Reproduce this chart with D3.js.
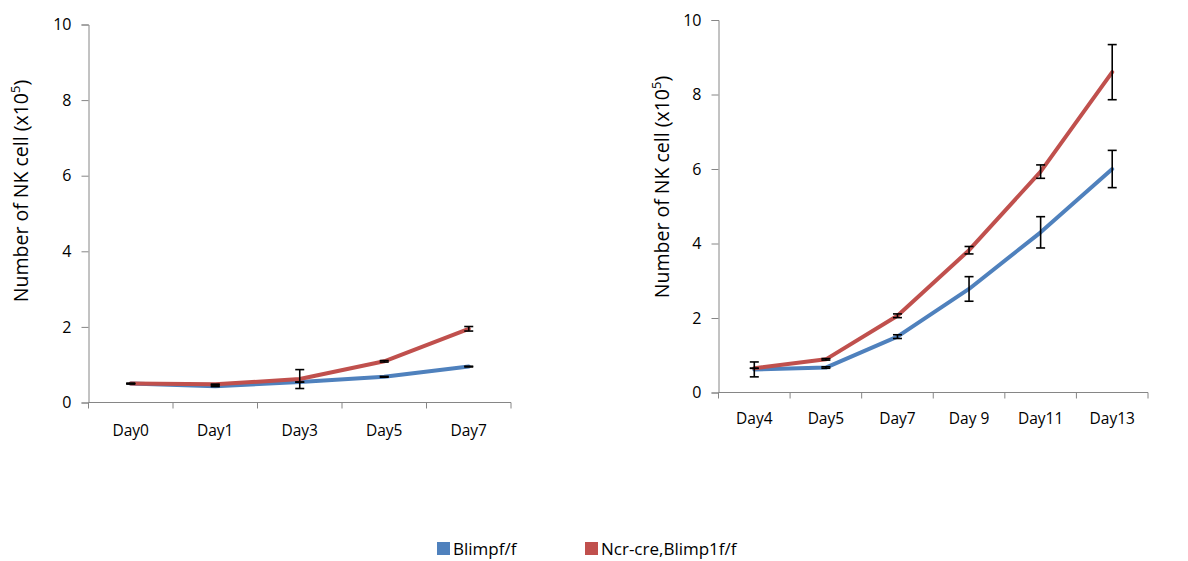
<!DOCTYPE html>
<html><head><meta charset="utf-8">
<script src="https://cdn.jsdelivr.net/npm/d3@7"></script>
<style>body{margin:0;background:#fff}svg{display:block}text{font-family:"Open Sans","Noto Sans",sans-serif;fill:#000}</style>
</head><body><svg id="c" width="1188" height="561"></svg>
<script>
const seriesNames = ["Blimpf/f", "Ncr-cre,Blimp1f/f"];
const seriesColors = ["#4F81BD", "#C0504D"];
const yTicks = [0, 2, 4, 6, 8, 10];

const leftDays = ["Day0", "Day1", "Day3", "Day5", "Day7"];
const leftBlue = [0.50, 0.43, 0.54, 0.68, 0.95];
const leftBlueErr = [0.01, 0.01, 0.00, 0.01, 0.01];
const leftRed = [0.50, 0.48, 0.62, 1.09, 1.95];
const leftRedErr = [0.00, 0.00, 0.25, 0.02, 0.06];

const rightDays = ["Day4", "Day5", "Day7", "Day 9", "Day11", "Day13"];
const rightBlue = [0.62, 0.67, 1.50, 2.78, 4.30, 6.00];
const rightBlueErr = [0.20, 0.02, 0.05, 0.33, 0.42, 0.50];
const rightRed = [0.65, 0.89, 2.06, 3.82, 5.93, 8.60];
const rightRedErr = [0.00, 0.02, 0.05, 0.10, 0.18, 0.74];

const svg = d3.select("#c");

function panel(cfg) {
  const g = svg.append("g");
  const x = d3.scaleBand().domain(cfg.days).range([cfg.x0, cfg.x1]);
  const y = d3.scaleLinear().domain([0, 10]).range([cfg.y0, cfg.y1]);
  const ya = g.append("g").attr("transform", `translate(${cfg.x0},0)`)
    .call(d3.axisLeft(y).tickValues(yTicks).tickSize(7).tickPadding(10));
  ya.select(".domain").attr("stroke", "#868686").attr("stroke-width", 1);
  ya.selectAll(".tick line").attr("stroke", "#868686");
  ya.selectAll(".tick text").attr("font-size", 16).attr("font-family", '"Open Sans",sans-serif');
  const xa = g.append("g").attr("transform", `translate(0,${cfg.y0})`)
    .call(d3.axisBottom(x).tickSize(0).tickPadding(cfg.xPad));
  xa.select(".domain").attr("stroke", "#868686").attr("d", `M${cfg.x0},0H${cfg.x1}`);
  xa.selectAll(".tick text").attr("font-size", 15.5).attr("font-family", '"Open Sans",sans-serif');
  const bounds = cfg.days.map(d => x(d)).concat([cfg.x1]);
  g.selectAll("line.xt").data(bounds).join("line").attr("class", "xt")
    .attr("x1", d => d).attr("x2", d => d).attr("y1", cfg.y0).attr("y2", cfg.y0 + 6)
    .attr("stroke", "#868686");
  const t = g.append("text")
    .attr("transform", `translate(${cfg.titleX},${cfg.titleY}) rotate(-90)`)
    .attr("text-anchor", "middle").attr("font-size", 19.5);
  t.append("tspan").text("Number of NK cell (x10");
  t.append("tspan").text("5").attr("font-size", 13).attr("dy", -8);
  t.append("tspan").text(")").attr("dy", 8);

  const cx = d => x(d) + x.bandwidth() / 2;
  const line = d3.line().x((v, i) => cx(cfg.days[i])).y(v => y(v)).curve(d3.curveLinear);
  const series = [[cfg.blue, cfg.blueErr], [cfg.red, cfg.redErr]];
  series.forEach(([vals], si) => {
    g.append("path").attr("d", line(vals)).attr("fill", "none")
      .attr("stroke", seriesColors[si]).attr("stroke-width", 4)
      .attr("stroke-linecap", "round").attr("stroke-linejoin", "round");
  });
  series.forEach(([vals, errs]) => {
    vals.forEach((v, i) => {
      const e = errs[i]; const px = cx(cfg.days[i]);
      const eg = g.append("g").attr("stroke", "#000").attr("stroke-width", 1.6);
      eg.append("line").attr("x1", px).attr("x2", px).attr("y1", y(v - e)).attr("y2", y(v + e));
      [v - e, v + e].forEach(w => eg.append("line").attr("x1", px - 4.5).attr("x2", px + 4.5).attr("y1", y(w)).attr("y2", y(w)));
    });
  });
}

panel({days: leftDays, blue: leftBlue, blueErr: leftBlueErr, red: leftRed, redErr: leftRedErr,
  x0: 88.5, x1: 511, y0: 402.5, y1: 24.5, xPad: 22, titleX: 28, titleY: 191});
panel({days: rightDays, blue: rightBlue, blueErr: rightBlueErr, red: rightRed, redErr: rightRedErr,
  x0: 718.5, x1: 1148, y0: 392.5, y1: 20, xPad: 20, titleX: 669, titleY: 187});

const lg = svg.append("g");
const legX = [437, 585];
seriesNames.forEach((n, i) => {
  lg.append("rect").attr("x", legX[i]).attr("y", 542).attr("width", 13).attr("height", 13).attr("fill", seriesColors[i]);
  lg.append("text").attr("x", legX[i] + 16).attr("y", 555).attr("font-size", 17).text(n);
});
</script></body></html>
